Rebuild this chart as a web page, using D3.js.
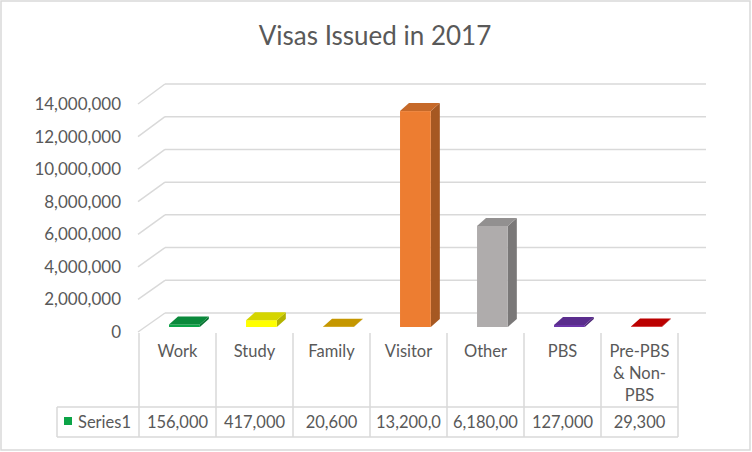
<!DOCTYPE html>
<html>
<head>
<meta charset="utf-8">
<script src="https://d3js.org/d3.v7.min.js"></script>
<style>
  body { margin: 0; background: #fff; }
  text { font-family: Lato, "Noto Sans", sans-serif; fill: #595959; }
</style>
</head>
<body>
<div id="chart"></div>
<script>
// data
let categories = ['Work', 'Study', 'Family', 'Visitor', 'Other', 'PBS', 'Pre-PBS & Non-PBS']
let catLines   = [['Work'], ['Study'], ['Family'], ['Visitor'], ['Other'], ['PBS'], ['Pre-PBS', '& Non-', 'PBS']]
let values     = [156000, 417000, 20600, 13200000, 6180000, 127000, 29300]
let barColors  = ['#0CA447', '#FFFF00', '#ECB400', '#ED7D31', '#AFACAC', '#6C36A9', '#E00000']
let yTicks     = [0, 2000000, 4000000, 6000000, 8000000, 10000000, 12000000, 14000000]
let seriesName = 'Series1'

function makeChart(){
    let width = 752, height = 452

    let svg = d3.select('#chart')
                .append('svg')
                    .attr('width', width)
                    .attr('height', height)

    // outer frame
    svg.append('rect')
        .attr('x', 1).attr('y', 1)
        .attr('width', width - 3).attr('height', height - 3)
        .attr('fill', '#fff')
        .attr('stroke', '#d9d9d9')
        .attr('stroke-width', 1.5)

    svg.append('text')
        .attr('x', 375).attr('y', 45)
        .attr('text-anchor', 'middle')
        .style('font-size', '26px')
        .text('Visas Issued in 2017')

    // oblique 3d: back wall, front edge and the bars in between
    let frontLeft = 138, backLeft = 165, backRight = 706
    let yBack  = d3.scaleLinear().domain([0, 14000000]).range([313, 84])
    let yFront = d3.scaleLinear().domain([0, 14000000]).range([332, 104])
    let yBar   = d3.scaleLinear().domain([0, 14000000]).range([327, 98])
    let x = d3.scaleBand().domain(categories).range([139, 678]).padding(0)
    let bw = x.bandwidth()
    let depthX = 9, depthY = -8

    let grid = svg.append('g')
    grid.selectAll('.hline')
        .data(yTicks)
        .enter()
        .append('line')
        .attr('x1', backLeft).attr('x2', backRight)
        .attr('y1', d => yBack(d)).attr('y2', d => yBack(d))
        .attr('stroke', '#d9d9d9').attr('stroke-width', 1.5)
    grid.selectAll('.dline')
        .data(yTicks)
        .enter()
        .append('line')
        .attr('x1', frontLeft).attr('x2', backLeft)
        .attr('y1', d => yFront(d)).attr('y2', d => yBack(d))
        .attr('stroke', '#d9d9d9').attr('stroke-width', 1.5)

    svg.selectAll('.ylab')
        .data(yTicks)
        .enter()
        .append('text')
        .attr('x', 121)
        .attr('y', d => yFront(d) + 6)
        .attr('text-anchor', 'end')
        .style('font-size', '17px')
        .text(d => d3.format(',')(d))

    // bars: front, side and top faces
    let bars = svg.selectAll('.bar')
        .data(categories)
        .enter()
        .append('g')
    let fx = c => x(c) + bw * 0.39
    let fw = bw * 0.40
    bars.append('path')
        .attr('d', (c, i) => {
            let x0 = fx(c) + fw, y0 = yBar(values[i]), y1 = yBar(0)
            return `M${x0},${y0}L${x0 + depthX},${y0 + depthY}L${x0 + depthX},${y1 + depthY}L${x0},${y1}Z`
        })
        .attr('fill', (c, i) => d3.color(barColors[i]).darker(1))
    bars.append('rect')
        .attr('x', c => fx(c))
        .attr('width', fw)
        .attr('y', (c, i) => yBar(values[i]))
        .attr('height', (c, i) => yBar(0) - yBar(values[i]))
        .attr('fill', (c, i) => barColors[i])
    bars.append('path')
        .attr('d', (c, i) => {
            let x0 = fx(c), y0 = yBar(values[i])
            return `M${x0},${y0}L${x0 + depthX},${y0 + depthY}L${x0 + fw + depthX},${y0 + depthY}L${x0 + fw},${y0}Z`
        })
        .attr('fill', (c, i) => d3.color(barColors[i]).darker(0.5))

    // data table
    let rowTop = 407, rowBottom = 437, tableTop = 333
    let lines = svg.append('g').attr('stroke', '#d9d9d9').attr('stroke-width', 1.5)
    let edges = categories.map(c => x(c)).concat([x.range()[1]])
    lines.selectAll('.vline')
        .data(edges)
        .enter()
        .append('line')
        .attr('x1', d => d).attr('x2', d => d)
        .attr('y1', tableTop).attr('y2', rowBottom)
    lines.append('line').attr('x1', 57).attr('x2', 678).attr('y1', rowTop).attr('y2', rowTop)
    lines.append('line').attr('x1', 57).attr('x2', 678).attr('y1', rowBottom).attr('y2', rowBottom)
    lines.append('line').attr('x1', 57).attr('x2', 57).attr('y1', rowTop).attr('y2', rowBottom)

    let labels = svg.selectAll('.cat')
        .data(categories)
        .enter()
        .append('text')
        .attr('text-anchor', 'middle')
        .style('font-size', '16.5px')
    labels.selectAll('tspan')
        .data((c, i) => catLines[i].map(t => ({ t: t, c: c })))
        .enter()
        .append('tspan')
        .attr('x', d => x(d.c) + bw / 2)
        .attr('y', (d, j) => 357 + j * 22)
        .text(d => d.t)

    svg.append('rect')
        .attr('x', 64).attr('y', 417)
        .attr('width', 8).attr('height', 8)
        .attr('fill', barColors[0])
    svg.append('text')
        .attr('x', 131).attr('y', 428)
        .attr('text-anchor', 'end')
        .style('font-size', '16.5px')
        .text(seriesName)

    // values: Excel drops the trailing characters that do not fit the cell
    categories.forEach((c, i) => {
        let s = d3.format(',')(values[i])
        let t = svg.append('text')
            .attr('x', x(c) + bw / 2)
            .attr('y', 428)
            .attr('text-anchor', 'middle')
            .style('font-size', '16.5px')
            .text(s)
        while (t.node().getComputedTextLength() > bw - 6 && s.length > 1) {
            s = s.slice(0, -1)
            t.text(s)
        }
    })
}

makeChart()
</script>
</body>
</html>
